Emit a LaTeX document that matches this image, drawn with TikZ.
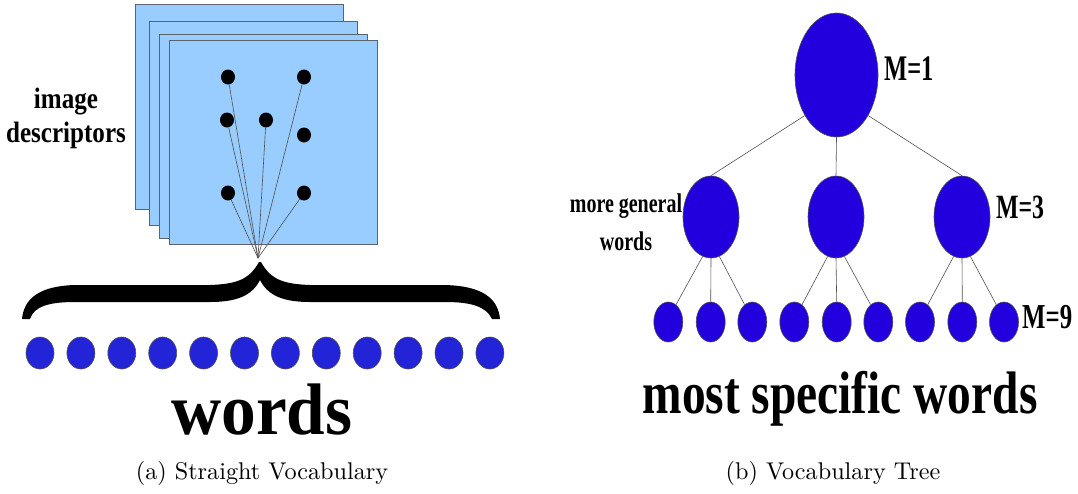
\documentclass[tikz,border=0pt]{standalone}
\usepackage{fontspec}
\newfontfamily\tms{Liberation Serif}
\usetikzlibrary{shapes.geometric}
\definecolor{sheetblue}{HTML}{99CCFF}
\definecolor{sheetedge}{HTML}{5A6470}
\definecolor{wordblue}{HTML}{2323D8}
\definecolor{treeblue}{HTML}{2200DD}
\definecolor{edgegray}{HTML}{505050}
\tikzset{
  sheet/.style={draw=sheetedge, fill=sheetblue, line width=1pt},
  desc/.style={ellipse, fill=black, draw=none, inner sep=0pt, minimum width=14pt, minimum height=15pt},
  wordnode/.style={ellipse, fill=wordblue, draw=edgegray, line width=0.6pt, inner sep=0pt, minimum width=28pt, minimum height=32pt},
  treenode/.style={ellipse, fill=treeblue, draw=edgegray, line width=0.6pt, inner sep=0pt},
  link/.style={draw=edgegray, line width=0.6pt},
  boldlabel/.style={inner sep=0pt, font=\tms\bfseries},
  caption/.style={inner sep=0pt, scale=2.42, font=\fontsize{10}{12}\selectfont}
}
\begin{document}
\begin{tikzpicture}[x=1pt, y=-1pt]
\useasboundingbox (0,0) rectangle (1078,493);

% ---------- (a) Straight Vocabulary ----------
\draw[sheet] (135,4) rectangle (343,209);
\draw[sheet] (149,21) rectangle (357,225);
\draw[sheet] (159,34) rectangle (367,238);
\draw[sheet] (169,40) rectangle (377,244);

\node[desc] (d1) at (228,77) {};
\node[desc] (d2) at (304,77) {};
\node[desc] (d3) at (227,120) {};
\node[desc] (d4) at (266,120) {};
\node[desc] (d5) at (304,135) {};
\node[desc] (d6) at (228,193) {};
\node[desc] (d7) at (304,193) {};

\coordinate (apex) at (258,258);
\foreach \d in {d1,d2,d3,d4,d6,d7} \draw[link] (apex) -- (\d);

% curly brace
\fill[black] (259,262) .. controls (249,280) and (236,284) .. (210,285)
  -- (75,285) .. controls (40,286) and (24,298) .. (22,319)
  -- (30,319) .. controls (34,306) and (50,302) .. (75,302)
  -- (210,302) .. controls (236,302) and (252,296) .. (260,280)
  .. controls (268,296) and (284,302) .. (310,302)
  -- (445,302) .. controls (470,302) and (486,306) .. (492,319)
  -- (500,319) .. controls (498,298) and (482,286) .. (445,285)
  -- (310,285) .. controls (284,284) and (271,280) .. (261,262) -- cycle;

\foreach \i in {0,...,11} \node[wordnode] (w\i) at ({40+40.9*\i},353) {};

\node[boldlabel, align=center, xscale=0.85, font=\tms\bfseries\fontsize{29.5}{34}\selectfont] (imgdesc) at (66,118) {image\\descriptors};
\node[boldlabel, anchor=base, xscale=0.95, font=\tms\bfseries\fontsize{73}{73}\selectfont] (wordslbl) at (262,434) {words};

\node[caption, anchor=base] (capa) at (262,479) {(a) Straight Vocabulary};

% ---------- (b) Vocabulary Tree ----------
\node[treenode, minimum width=83pt, minimum height=124pt] (root) at (836.5,75) {};
\node[treenode, minimum width=56pt, minimum height=82pt] (c1) at (711,217) {};
\node[treenode, minimum width=56pt, minimum height=82pt] (c2) at (836,217) {};
\node[treenode, minimum width=56pt, minimum height=82pt] (c3) at (962,217) {};

\foreach \n/\x in {1/668.3,2/710.7,3/752.3,4/794.3,5/836.7,6/878.3,7/920,8/962.3,9/1004}
  \node[treenode, minimum width=29pt, minimum height=40pt] (l\n) at (\x,322) {};

\draw[link] (root.232) -- (c1.north);
\draw[link] (root.south) -- (c2.north);
\draw[link] (root.308) -- (c3.north);

\draw[link] (c1.258) -- (l1.66);
\draw[link] (c1.south) -- (l2.north);
\draw[link] (c1.282) -- (l3.114);
\draw[link] (c2.258) -- (l4.66);
\draw[link] (c2.south) -- (l5.north);
\draw[link] (c2.282) -- (l6.114);
\draw[link] (c3.258) -- (l7.66);
\draw[link] (c3.south) -- (l8.north);
\draw[link] (c3.282) -- (l9.114);

\node[boldlabel, anchor=base west, xscale=0.68, font=\tms\bfseries\fontsize{36}{36}\selectfont] (m1) at (884,80) {M=1};
\node[boldlabel, anchor=base west, xscale=0.70, font=\tms\bfseries\fontsize{34}{34}\selectfont] (m3) at (996,218) {M=3};
\node[boldlabel, anchor=base west, xscale=0.71, font=\tms\bfseries\fontsize{35}{35}\selectfont] (m9) at (1022,328) {M=9};

\node[boldlabel, align=center, xscale=0.74, font=\tms\bfseries\fontsize{27}{38}\selectfont] (gen) at (626,222) {more general\\words};

\node[boldlabel, anchor=base, xscale=0.79, font=\tms\bfseries\fontsize{60}{60}\selectfont] (specific) at (840,413) {most specific words};

\node[caption, anchor=base] (capb) at (833,479) {(b) Vocabulary Tree};
\end{tikzpicture}
\end{document}
